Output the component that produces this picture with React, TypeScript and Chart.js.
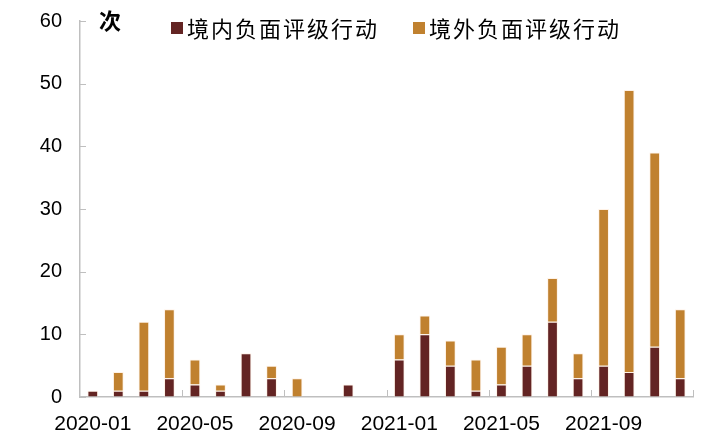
import React, { useEffect, useRef } from 'react';
import { Chart, registerables } from 'chart.js';

Chart.register(...registerables);

const months = [
  '2020-01', '2020-02', '2020-03', '2020-04', '2020-05', '2020-06',
  '2020-07', '2020-08', '2020-09', '2020-10', '2020-11', '2020-12',
  '2021-01', '2021-02', '2021-03', '2021-04', '2021-05', '2021-06',
  '2021-07', '2021-08', '2021-09', '2021-10', '2021-11', '2021-12',
];
const domestic = [1, 1, 1, 3, 2, 1, 7, 3, 0, 0, 2, 0, 6, 10, 5, 1, 2, 5, 12, 3, 5, 4, 8, 3];
const overseas = [0, 3, 11, 11, 4, 1, 0, 2, 3, 0, 0, 0, 4, 3, 4, 5, 6, 5, 7, 4, 25, 45, 31, 11];
const yTicks = [0, 10, 20, 30, 40, 50, 60];
const seriesNames = ['境内负面评级行动', '境外负面评级行动'];
const unitLabel = '次';

const COLOR_DOM = '#632423';
const COLOR_OVS = '#C0812F';
const AXIS_GRAY = '#BFBFBF';
const NUM_FONT = '"Liberation Sans", Arial, sans-serif';
const CJK_FONT = '"Noto Sans CJK SC", sans-serif';

export default function App() {
  const ref = useRef<HTMLCanvasElement | null>(null);

  useEffect(() => {
    document.body.style.margin = '0';
    const canvas = ref.current;
    if (!canvas) return;

    const decor = {
      id: 'decor',
      afterDraw(chart: any) {
        const ctx = chart.ctx as CanvasRenderingContext2D;
        const xs = chart.scales.x;
        const ys = chart.scales.y;
        const area = chart.chartArea;
        ctx.save();
        // inward tick marks
        ctx.strokeStyle = AXIS_GRAY;
        ctx.lineWidth = 1;
        ctx.beginPath();
        yTicks.forEach((v) => {
          const y = Math.round(ys.getPixelForValue(v)) + 0.5;
          ctx.moveTo(area.left, y);
          ctx.lineTo(area.left + 6, y);
        });
        for (let i = 4; i <= months.length; i += 4) {
          const x = Math.round(xs.getPixelForValue(i - 0.5)) + 0.5;
          ctx.moveTo(x, area.bottom);
          ctx.lineTo(x, area.bottom - 7);
        }
        ctx.stroke();

        // unit label
        ctx.fillStyle = '#000';
        ctx.font = `bold 22px ${CJK_FONT}`;
        ctx.textAlign = 'center';
        ctx.textBaseline = 'middle';
        ctx.fillText(unitLabel, 110, 21);

        // legend
        ctx.font = `22px ${CJK_FONT}`;
        ctx.textAlign = 'left';
        (ctx as any).letterSpacing = '2px';
        const colors = [COLOR_DOM, COLOR_OVS];
        let x = 171;
        seriesNames.forEach((name, i) => {
          ctx.fillStyle = colors[i];
          ctx.fillRect(x, 22, 12, 12);
          ctx.fillStyle = '#000';
          ctx.fillText(name, x + 16, 29);
          const w = ctx.measureText(name).width;
          x = x + 16 + w + 34;
        });
        (ctx as any).letterSpacing = '0px';
        ctx.restore();
      },
    };

    const chart = new Chart(canvas, {
      type: 'bar',
      data: {
        labels: months,
        datasets: [
          {
            label: seriesNames[0],
            data: domestic,
            backgroundColor: COLOR_DOM,
            borderColor: 'rgba(255,238,222,0.75)',
            borderWidth: 1,
            stack: 's',
          },
          {
            label: seriesNames[1],
            data: overseas,
            backgroundColor: COLOR_OVS,
            borderColor: 'rgba(255,238,222,0.75)',
            borderWidth: 1,
            stack: 's',
          },
        ],
      },
      options: {
        responsive: false,
        animation: false,
        devicePixelRatio: 1,
        layout: { padding: { top: 21, right: 11, left: 0, bottom: 0 } },
        plugins: {
          legend: { display: false },
          tooltip: { enabled: false },
        },
        datasets: {
          bar: { barPercentage: 0.42, categoryPercentage: 1 },
        },
        scales: {
          x: {
            stacked: true,
            grid: { display: false, drawTicks: false },
            border: { display: true, color: AXIS_GRAY, width: 1.5 },
            ticks: {
              autoSkip: false,
              maxRotation: 0,
              minRotation: 0,
              padding: 15,
              color: '#000',
              font: { family: NUM_FONT, size: 21 },
              callback: (_v: any, i: number) => (i % 4 === 0 ? months[i] : ''),
            },
            afterFit: (s: any) => {
              s.height = 45;
            },
          },
          y: {
            stacked: true,
            min: 0,
            max: 60,
            grid: {
              display: true,
              drawOnChartArea: false,
              drawTicks: true,
              tickLength: 18,
              tickColor: 'rgba(0,0,0,0)',
            },
            border: { display: true, color: AXIS_GRAY, width: 1.5 },
            ticks: {
              stepSize: 10,
              padding: 0,
              color: '#000',
              font: { family: NUM_FONT, size: 20 },
            },
            afterFit: (s: any) => {
              s.width = 80;
            },
          },
        },
      },
      plugins: [decor],
    });

    return () => chart.destroy();
  }, []);

  return (
    <div style={{ width: 704, height: 442, background: '#fff' }}>
      <canvas ref={ref} width={704} height={442} />
    </div>
  );
}
